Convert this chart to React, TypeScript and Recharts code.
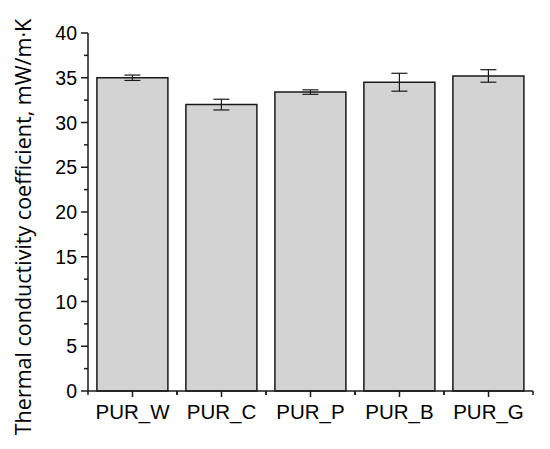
import React from "react";
import {
  BarChart,
  Bar,
  XAxis,
  YAxis,
  ErrorBar,
} from "recharts";

const samples = ["PUR_W", "PUR_C", "PUR_P", "PUR_B", "PUR_G"];
const conductivity = [35.0, 32.0, 33.4, 34.5, 35.2];
const stdDev = [0.3, 0.6, 0.25, 1.0, 0.7];
const yTicks = [0, 2.5, 5, 7.5, 10, 12.5, 15, 17.5, 20, 22.5, 25, 27.5, 30, 32.5, 35, 37.5, 40];

const data = samples.map((name, i) => ({
  name,
  value: conductivity[i],
  err: stdDev[i],
}));

const INK = "#1a1a1a";
const TICK_FONT = "'Liberation Sans', Arial, sans-serif";

// y ticks: labelled majors every 5, short minors in between
const YTick = (props: any) => {
  const { x, y, payload } = props;
  const major = payload.value % 5 === 0;
  const axisX = x + 3 + 7; // tickMargin + tickSize
  return (
    <g>
      <line x1={axisX - (major ? 7 : 4)} x2={axisX} y1={y} y2={y} stroke={INK} strokeWidth={1.5} />
      {major && (
        <text x={x - 1} y={y} dy="0.36em" textAnchor="end" fontSize={19.5} fontFamily={TICK_FONT} fill="#000">
          {payload.value}
        </text>
      )}
    </g>
  );
};

// x ticks: major at the category, minor at the band edges
const XTick = (props: any) => {
  const { x, y, payload } = props;
  const axisY = y - 7 - 6;
  const half = payload.offset || 0;
  return (
    <g>
      <line x1={x} x2={x} y1={axisY} y2={axisY + 6} stroke={INK} strokeWidth={1.5} />
      <line x1={x - half} x2={x - half} y1={axisY} y2={axisY + 4} stroke={INK} strokeWidth={1.5} />
      <line x1={x + half} x2={x + half} y1={axisY} y2={axisY + 4} stroke={INK} strokeWidth={1.5} />
      <text x={x} y={y} dy="0.71em" textAnchor="middle" fontSize={20.5} fontFamily={TICK_FONT} fill="#000">
        {payload.value}
      </text>
    </g>
  );
};

export default function App() {
  return (
    <div style={{ position: "absolute", left: 0, top: 0, background: "#fff" }}>
      <BarChart
        width={550}
        height={449}
        data={data}
        margin={{ top: 33, right: 17, bottom: 0, left: 0 }}
        barCategoryGap="10%"
      >
        <XAxis
          dataKey="name"
          xAxisId="bottom"
          height={58}
          tickSize={6}
          tickMargin={7}
          tickLine={false}
          tick={<XTick />}
          axisLine={{ stroke: INK, strokeWidth: 1.5 }}
          interval={0}
        />
        <XAxis
          dataKey="name"
          xAxisId="top"
          orientation="top"
          height={0}
          tick={false}
          tickLine={false}
          axisLine={{ stroke: INK, strokeWidth: 1.5 }}
        />
        <YAxis
          yAxisId="left"
          width={88}
          domain={[0, 40]}
          ticks={yTicks}
          interval={0}
          tickSize={7}
          tickMargin={3}
          tickLine={false}
          tick={<YTick />}
          axisLine={{ stroke: INK, strokeWidth: 1.5 }}
          label={{
            value: "Thermal conductivity coefficient, mW/m·K",
            angle: -90,
            position: "center",
            dx: -21,
            dy: 15,
            style: { fontSize: 21.5, fontFamily: "'Open Sans', sans-serif", fill: "#000", textAnchor: "middle" },
          }}
        />
        <YAxis
          yAxisId="right"
          orientation="right"
          width={0}
          domain={[0, 40]}
          tick={false}
          tickLine={false}
          axisLine={{ stroke: INK, strokeWidth: 1.5 }}
        />
        <Bar
          dataKey="value"
          xAxisId="bottom"
          yAxisId="left"
          fill="#d3d3d3"
          stroke={INK}
          strokeWidth={1.5}
          isAnimationActive={false}
        >
          <ErrorBar dataKey="err" width={8} stroke={INK} strokeWidth={1.2} direction="y" />
        </Bar>
      </BarChart>
    </div>
  );
}
